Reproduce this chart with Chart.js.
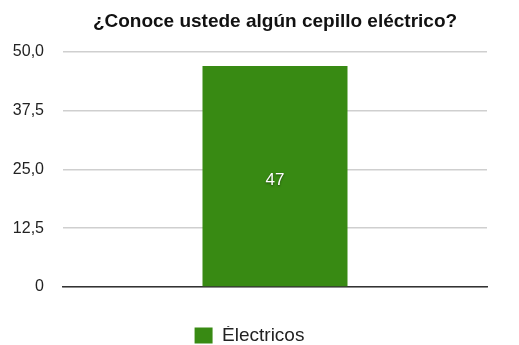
<!DOCTYPE html>
<html>
<head>
<meta charset="utf-8">
<script src="https://cdn.jsdelivr.net/npm/chart.js@4"></script>
<style>
    html, body { margin: 0; padding: 0; background: #fff; }
    #wrap { width: 519px; height: 345px; }
</style>
</head>
<body>
<div id="wrap"><canvas id="chart" width="519" height="345"></canvas></div>
<script>
// Data
const categories = ['Électricos'];
const seriesLabel = 'Électricos';
const seriesValues = [47];
const yTicks = [0, 12.5, 25, 37.5, 50];

const FONT = '"Liberation Sans", Arial, Helvetica, sans-serif';
const GREEN = '#388a13';

// value label in the middle of each bar
const barLabels = {
    id: 'barLabels',
    afterDatasetsDraw(chart) {
        const ctx = chart.ctx;
        chart.getDatasetMeta(0).data.forEach((bar, i) => {
            const mid = (bar.y + bar.base) / 2;
            ctx.save();
            ctx.font = '17px ' + FONT;
            ctx.fillStyle = '#fff';
            ctx.textAlign = 'center';
            ctx.textBaseline = 'middle';
            ctx.shadowColor = 'rgba(0,0,0,0.5)';
            ctx.shadowBlur = 2;
            ctx.shadowOffsetY = 1;
            ctx.fillText(String(seriesValues[i]), bar.x, mid + 4);
            ctx.restore();
        });
    }
};

// center the title over the plot area instead of the whole canvas
const titleOverPlot = {
    id: 'titleOverPlot',
    afterLayout(chart) {
        const t = chart.titleBlock;
        if (!t) return;
        t.left = chart.chartArea.left;
        t.right = chart.chartArea.right;
        t.width = t.right - t.left;
    }
};

new Chart(document.getElementById('chart'), {
    type: 'bar',
    data: {
        labels: categories,
        datasets: [{
            label: seriesLabel,
            data: seriesValues,
            backgroundColor: GREEN,
            borderWidth: 0,
            categoryPercentage: 1,
            barPercentage: 0.342
        }]
    },
    options: {
        responsive: false,
        animation: false,
        layout: { padding: { left: 12, right: 32, top: 10, bottom: -10 } },
        plugins: {
            title: {
                display: true,
                text: '¿Conoce ustede algún cepillo eléctrico?',
                color: '#111',
                font: { family: FONT, size: 19, weight: 'bold' },
                padding: { top: 0, bottom: 19 }
            },
            legend: {
                position: 'bottom',
                labels: {
                    color: '#222',
                    font: { family: FONT, size: 19 },
                    boxWidth: 18,
                    boxHeight: 16,
                    padding: 0
                }
            },
            tooltip: { enabled: false }
        },
        scales: {
            x: {
                grid: { display: false },
                ticks: { display: false },
                border: { display: true, color: '#333', width: 1.5 },
                afterFit: s => { s.height = 39; }
            },
            y: {
                min: 0,
                max: 50,
                afterBuildTicks: axis => { axis.ticks = yTicks.map(v => ({ value: v })); },
                afterFit: s => { s.width = 51; },
                ticks: {
                    color: '#222',
                    padding: 19,
                    font: { family: FONT, size: 16 },
                    callback: v => v === 0 ? '0' : v.toFixed(1).replace('.', ',')
                },
                grid: { color: '#cfcfcf', lineWidth: 1.5, drawTicks: false },
                border: { display: false }
            }
        }
    },
    plugins: [barLabels, titleOverPlot]
});
</script>
</body>
</html>
